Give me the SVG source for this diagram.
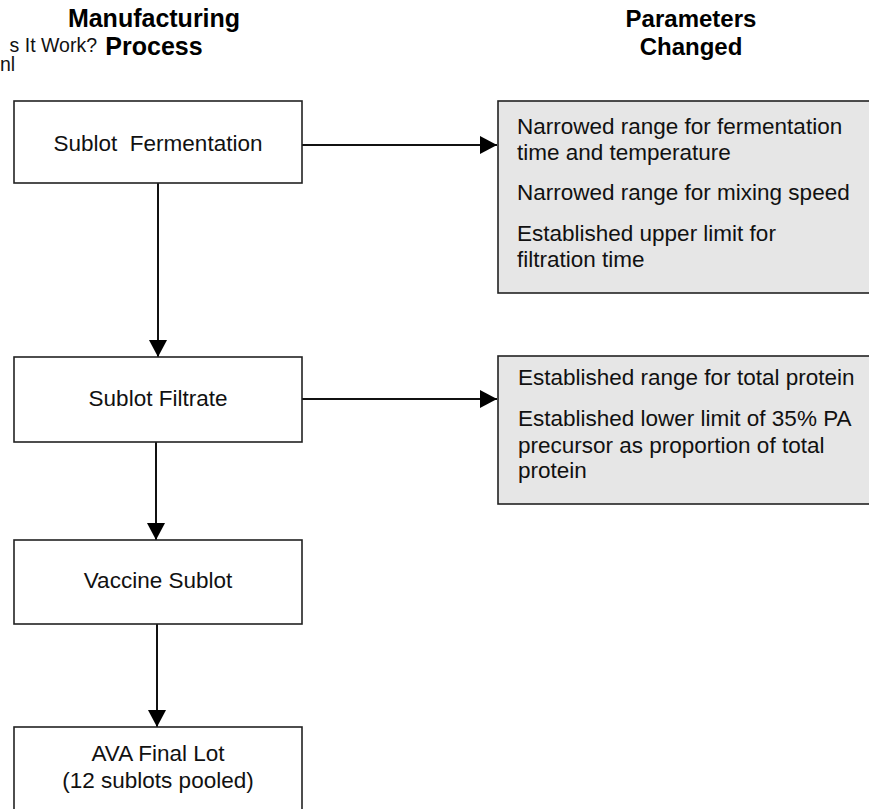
<svg xmlns="http://www.w3.org/2000/svg" width="869" height="809" viewBox="0 0 869 809">
<defs>
<style>
.box{fill:#ffffff;stroke:#222;stroke-width:1.6}
.pbox{fill:#e6e6e6;stroke:#222;stroke-width:1.6}
.t{font-family:"Liberation Sans",Arial,sans-serif;font-size:22.5px;fill:#111}
.c{text-anchor:middle}
.h{font-family:"Liberation Sans",Arial,sans-serif;font-size:25px;font-weight:bold;fill:#000;text-anchor:middle}
.h2{font-family:"Liberation Sans",Arial,sans-serif;font-size:24px;font-weight:bold;fill:#000;text-anchor:middle}
.s{font-family:"Liberation Sans",Arial,sans-serif;font-size:19.5px;fill:#111}
.ln{stroke:#111;stroke-width:2;fill:none}
</style>
<marker id="ah" viewBox="0 0 17 18" refX="17" refY="9" markerWidth="17" markerHeight="18" markerUnits="userSpaceOnUse" orient="auto">
<path d="M0,0 L17,9 L0,18 Z" fill="#000"/>
</marker>
</defs>
<rect width="869" height="809" fill="#ffffff"/>
<g id="headers">
<text class="h" x="154" y="27">Manufacturing</text>
<text class="h" x="154" y="55">Process</text>
<text class="h2" x="691" y="27">Parameters</text>
<text class="h2" x="691" y="55">Changed</text>
<text class="s" x="97" y="52" text-anchor="end">s It Work?</text>
<text class="s" x="0" y="71">nl</text>
</g>
<g id="connectors">
<line class="ln" x1="302" y1="145" x2="497" y2="145" marker-end="url(#ah)"/>
<line class="ln" x1="302" y1="399" x2="497" y2="399" marker-end="url(#ah)"/>
<line class="ln" x1="158" y1="183" x2="158" y2="357" marker-end="url(#ah)"/>
<line class="ln" x1="156" y1="442" x2="156" y2="540" marker-end="url(#ah)"/>
<line class="ln" x1="157" y1="624" x2="157" y2="727" marker-end="url(#ah)"/>
</g>
<g id="node-fermentation">
<rect class="box" x="14" y="101" width="288" height="82"/>
<text class="t c" x="158" y="151" xml:space="preserve">Sublot  Fermentation</text>
</g>
<g id="node-filtrate">
<rect class="box" x="14" y="357" width="288" height="85"/>
<text class="t c" x="158" y="405.5">Sublot Filtrate</text>
</g>
<g id="node-vaccine">
<rect class="box" x="14" y="540" width="288" height="84"/>
<text class="t c" x="158" y="588">Vaccine Sublot</text>
</g>
<g id="node-final">
<rect class="box" x="14" y="727" width="288" height="90"/>
<text class="t c" x="158" y="761">AVA Final Lot</text>
<text class="t c" x="158" y="788">(12 sublots pooled)</text>
</g>
<g id="params-fermentation">
<rect class="pbox" x="498" y="101" width="380" height="192"/>
<text class="t" x="517" y="134">Narrowed range for fermentation</text>
<text class="t" x="517" y="160">time and temperature</text>
<text class="t" x="517" y="200">Narrowed range for mixing speed</text>
<text class="t" x="517" y="240.5">Established upper limit for</text>
<text class="t" x="517" y="266.5">filtration time</text>
</g>
<g id="params-filtrate">
<rect class="pbox" x="498" y="356" width="380" height="148"/>
<text class="t" x="518" y="385">Established range for total protein</text>
<text class="t" x="518" y="426">Established lower limit of 35% PA</text>
<text class="t" x="518" y="452.5">precursor as proportion of total</text>
<text class="t" x="518" y="478">protein</text>
</g>
</svg>
